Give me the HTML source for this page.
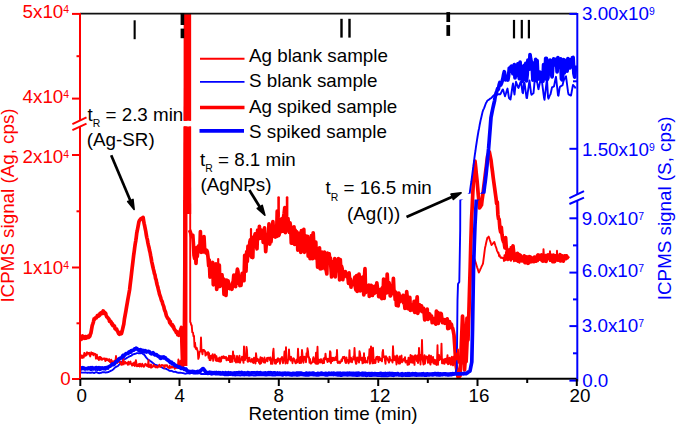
<!DOCTYPE html>
<html><head><meta charset="utf-8">
<style>
html,body{margin:0;padding:0;background:#fff;}
body{width:677px;height:426px;overflow:hidden;}
svg{display:block;}
text{font-family:"Liberation Sans",sans-serif;}
</style></head>
<body>
<svg width="677" height="426" viewBox="0 0 677 426">
<defs>
<clipPath id="plot"><rect x="80" y="14" width="497" height="365"/></clipPath>
<clipPath id="cred"><rect x="80" y="14" width="497" height="106.8"/><rect x="80" y="126.5" width="497" height="252.5"/></clipPath>
<clipPath id="cblue"><rect x="80" y="14" width="497" height="179.8"/><rect x="80" y="199.4" width="497" height="179.6"/></clipPath>
</defs>
<rect width="677" height="426" fill="#fff"/>
<g clip-path="url(#cred)"><polyline points="80.0,340.9 80.5,338.4 81.1,339.3 81.6,337.5 82.1,338.8 82.7,336.0 83.2,337.4 83.7,337.1 84.3,337.7 84.8,338.2 85.4,336.6 85.9,337.0 86.5,338.0 87.0,337.2 87.5,336.7 88.1,336.2 88.7,337.3 89.2,336.9 89.8,336.3 90.3,334.5 90.9,333.1 91.6,329.2 92.2,325.6 92.8,323.9 93.5,321.7 94.1,318.9 94.6,319.2 95.2,318.1 95.8,317.9 96.3,318.0 96.9,316.7 97.4,315.6 97.9,316.2 98.5,316.2 99.0,314.8 99.5,315.4 100.1,313.3 100.6,313.2 101.1,312.7 101.6,313.7 102.2,312.7 102.7,312.3 103.2,310.9 103.7,311.9 104.2,313.4 104.7,312.4 105.2,313.1 105.7,313.6 106.2,315.3 106.8,316.9 107.3,317.2 107.9,317.8 108.5,318.8 109.0,319.1 109.5,321.3 110.1,320.9 110.6,321.4 111.2,322.2 111.7,324.0 112.3,323.7 112.8,325.6 113.4,325.2 113.9,326.2 114.5,326.2 115.0,328.6 115.6,329.1 116.1,329.2 116.7,329.2 117.2,330.8 117.7,331.3 118.3,332.9 118.8,333.8 119.3,334.3 119.8,333.3 120.3,332.6 120.9,333.8 121.4,333.6 121.9,332.1 122.5,329.6 123.2,326.5 123.8,324.1 124.4,319.1 125.1,315.4 125.7,312.2 126.2,309.1 126.7,306.1 127.2,303.4 127.7,300.4 128.3,297.0 129.0,293.2 129.6,289.7 130.1,285.3 130.6,281.3 131.1,277.2 131.6,272.7 132.1,268.4 132.6,264.3 133.1,260.1 133.6,255.8 134.2,251.4 134.7,247.6 135.2,244.0 135.8,240.6 136.3,237.0 136.8,232.8 137.3,230.5 137.9,227.4 138.4,224.6 138.9,221.9 139.4,220.6 140.0,219.8 140.5,219.4 141.0,218.6 141.5,218.7 142.1,218.2 142.6,217.7 143.1,217.4 143.6,220.5 144.1,223.4 144.7,226.0 145.2,228.6 145.8,231.5 146.3,234.9 146.8,237.6 147.4,239.9 147.9,242.9 148.4,245.2 149.0,247.4 149.5,250.3 150.1,252.5 150.6,255.4 151.2,258.4 151.7,261.6 152.3,264.2 152.8,266.5 153.4,269.2 153.9,270.9 154.4,273.6 155.0,275.0 155.5,278.2 156.1,279.7 156.6,282.5 157.2,285.0 157.8,287.0 158.3,289.2 158.9,291.4 159.4,293.9 160.0,295.6 160.5,297.0 161.1,299.1 161.6,300.7 162.2,301.6 162.7,303.9 163.3,305.4 163.8,306.6 164.3,309.1 164.9,310.8 165.4,311.7 166.0,314.2 166.5,316.1 167.1,317.1 167.6,318.2 168.1,318.7 168.7,319.2 169.2,320.3 169.7,322.7 170.2,321.4 170.8,324.2 171.3,324.5 171.8,325.5 172.4,324.7 172.9,326.8 173.5,326.5 174.0,328.5 174.6,329.6 175.1,330.2 175.6,330.6 176.2,332.3 176.7,331.5 177.2,332.2 177.7,334.7 178.3,333.6 178.8,335.3 179.3,333.7 179.8,333.1 180.4,330.4 180.9,329.2 181.4,327.5 182.0,345.7 182.6,364.0 183.1,363.2 183.6,362.4 184.2,361.6 184.7,360.8 185.2,360.0 185.5,0.0" fill="none" stroke="#ff0000" stroke-width="3.7" stroke-linejoin="round" stroke-linecap="butt" /><polyline points="189.5,230.0 190.2,231.7 191.0,234.0 191.6,236.7 192.2,237.1 192.8,235.2 193.4,243.7 194.0,255.4 194.7,258.6 195.3,250.6 196.0,263.5 196.7,247.5 197.3,256.3 198.0,247.0 198.6,245.9 199.2,245.9 199.8,250.5 200.4,231.5 201.0,252.3 201.6,245.7 202.2,237.8 202.8,245.7 203.4,252.0 204.0,236.6 204.7,249.8 205.3,251.4 206.0,252.9 206.7,250.3 207.3,251.7 208.0,256.9 208.7,265.9 209.3,260.1 210.0,277.1 210.7,272.3 211.3,264.5 212.0,263.5 212.7,262.5 213.3,284.8 214.0,280.4 214.7,283.2 215.3,281.2 216.0,263.8 216.7,289.4 217.3,271.9 218.0,270.0 218.7,286.7 219.3,265.1 220.0,286.4 220.7,283.1 221.3,276.9 222.0,274.8 222.7,283.0 223.3,278.9 224.0,294.3 224.7,279.8 225.3,290.6 226.0,295.5 226.7,280.1 227.3,284.5 228.0,280.7 228.7,284.4 229.3,288.4 230.0,288.7 230.7,285.6 231.3,288.0 232.0,289.2 232.6,282.7 233.2,281.9 233.8,275.1 234.4,280.1 235.0,275.5 235.6,286.7 236.2,274.7 236.8,274.2 237.4,269.2 238.0,271.7 238.6,283.5 239.2,278.1 239.8,285.6 240.4,279.4 241.0,285.3 241.6,276.9 242.2,273.3 242.8,274.1 243.4,276.5 244.0,280.6 244.7,255.3 245.3,271.3 246.0,271.2 246.7,251.7 247.3,261.3 248.0,246.1 248.6,248.0 249.2,252.3 249.8,242.3 250.4,239.8 251.0,255.7 251.6,257.1 252.2,255.6 252.8,257.5 253.4,237.2 254.0,238.0 254.6,236.1 255.2,233.8 255.8,241.7 256.4,245.8 257.0,248.8 257.6,230.2 258.2,237.5 258.8,238.6 259.4,226.3 260.0,236.9 260.6,238.1 261.3,230.2 261.9,230.9 262.5,231.6 263.2,242.5 263.8,237.2 264.5,227.8 265.1,240.0 265.7,251.7 266.4,242.5 267.0,234.4 267.7,236.1 268.3,239.2 269.0,223.9 269.7,244.2 270.3,226.3 271.0,241.9 271.6,235.2 272.2,236.8 272.9,221.7 273.5,231.2 274.1,228.4 274.8,236.0 275.4,237.0 276.0,233.2 276.6,236.4 277.2,211.2 277.9,213.1 278.5,235.6 279.1,234.7 279.8,230.4 280.4,231.8 281.0,231.7 281.6,218.8 282.2,221.9 282.9,231.1 283.5,217.3 284.1,213.5 284.8,207.5 285.4,232.7 286.0,216.8 286.7,218.5 287.3,221.6 288.0,218.6 288.7,228.6 289.3,232.3 290.0,222.8 290.7,227.6 291.3,243.2 292.0,235.3 292.7,243.1 293.3,236.0 294.0,226.9 294.6,244.4 295.2,230.1 295.9,242.6 296.5,231.5 297.1,232.3 297.8,250.1 298.4,235.5 299.0,239.2 299.6,234.6 300.2,233.2 300.8,252.5 301.4,230.7 302.0,235.9 302.6,244.6 303.2,235.0 303.8,229.4 304.4,252.3 305.0,235.3 305.6,241.9 306.3,236.9 306.9,247.7 307.5,236.3 308.2,256.2 308.8,240.1 309.5,241.8 310.1,258.6 310.7,244.1 311.4,235.5 312.0,241.3 312.6,258.7 313.2,232.8 313.9,245.6 314.5,253.0 315.1,257.8 315.8,242.0 316.4,258.4 317.0,253.3 317.6,267.1 318.2,265.5 318.9,266.3 319.5,247.8 320.1,268.8 320.8,264.3 321.4,268.6 322.0,252.0 322.6,265.9 323.2,261.5 323.8,259.4 324.4,252.2 325.0,269.0 325.6,259.5 326.2,270.1 326.8,273.9 327.4,253.2 328.0,254.3 328.6,256.4 329.2,253.9 329.8,260.7 330.4,258.1 331.0,268.9 331.6,277.0 332.2,267.3 332.8,261.8 333.5,263.0 334.1,264.9 334.7,258.6 335.3,277.0 335.9,265.8 336.5,270.8 337.2,268.7 337.8,270.1 338.4,258.6 339.0,262.0 339.6,280.0 340.3,259.6 340.9,271.3 341.5,266.1 342.2,268.8 342.8,279.7 343.5,275.2 344.1,272.5 344.7,273.2 345.4,271.7 346.0,275.1 346.6,276.6 347.2,274.0 347.9,277.4 348.5,283.4 349.1,272.9 349.8,281.7 350.4,279.1 351.0,287.2 351.6,282.3 352.2,284.9 352.9,282.3 353.5,284.1 354.1,281.4 354.8,277.2 355.4,287.5 356.0,290.0 356.6,275.6 357.2,291.4 357.8,285.7 358.4,282.1 359.0,274.0 359.6,280.3 360.2,290.8 360.8,284.7 361.4,281.2 362.0,281.8 362.6,277.2 363.2,285.3 363.8,295.0 364.4,277.7 365.0,268.7 365.6,292.6 366.2,290.1 366.8,289.0 367.5,290.3 368.1,285.9 368.7,285.2 369.3,296.5 369.9,285.3 370.5,289.1 371.2,285.4 371.8,287.2 372.4,295.5 373.0,287.9 373.6,286.6 374.3,293.3 374.9,286.9 375.5,285.9 376.2,292.1 376.8,282.8 377.5,288.2 378.1,289.2 378.7,296.7 379.4,294.9 380.0,296.8 380.6,295.8 381.2,289.2 381.8,298.6 382.4,287.6 383.0,297.2 383.6,279.1 384.2,298.5 384.8,285.9 385.4,284.5 386.0,285.2 386.6,293.0 387.2,274.0 387.8,285.3 388.4,289.3 389.0,282.7 389.6,285.5 390.2,296.0 390.9,295.2 391.5,285.8 392.1,293.2 392.8,290.7 393.4,278.4 394.0,292.0 394.6,291.0 395.2,299.5 395.8,292.3 396.4,305.5 397.0,300.3 397.6,294.2 398.2,305.8 398.8,293.2 399.4,295.9 400.0,301.7 400.6,300.2 401.2,299.9 401.8,299.3 402.4,298.0 403.1,295.3 403.7,303.1 404.3,300.6 404.9,308.4 405.5,301.7 406.1,301.5 406.7,291.7 407.3,298.1 407.9,308.6 408.6,299.1 409.2,309.2 409.8,297.3 410.4,310.3 411.0,306.2 411.6,304.9 412.2,306.0 412.8,309.9 413.5,309.2 414.1,301.4 414.7,312.5 415.3,303.8 415.9,301.1 416.5,303.8 417.2,296.8 417.8,313.4 418.4,310.7 419.0,307.5 419.6,304.9 420.3,309.3 420.9,310.7 421.5,305.8 422.2,311.6 422.8,310.4 423.5,308.2 424.1,312.5 424.7,319.8 425.4,317.7 426.0,311.8 426.6,315.9 427.2,309.2 427.8,319.4 428.5,314.8 429.1,316.8 429.7,314.0 430.3,318.4 430.9,318.2 431.5,316.0 432.2,322.7 432.8,319.7 433.4,322.3 434.0,318.6 434.6,321.4 435.2,323.0 435.8,324.1 436.4,311.2 437.0,320.0 437.6,312.3 438.2,323.5 438.8,315.1 439.4,313.4 440.0,320.5 440.6,313.3 441.2,313.7 441.8,318.2 442.4,322.6 443.0,319.3 443.6,319.6 444.2,319.8 444.8,323.3 445.4,320.2 446.0,322.9 446.6,322.2 447.2,318.8 447.8,328.6 448.4,326.0 449.0,328.3 449.6,321.6 450.2,326.9 450.8,324.6 451.4,324.4 452.0,327.7 452.7,328.4 453.3,331.2 454.0,335.0 454.7,345.0 455.3,355.0 456.0,365.0 456.7,369.0 457.3,373.0 458.0,377.0 458.7,376.7 459.3,376.3 460.0,376.0 460.8,358.0 461.5,340.0 462.5,316.0 463.5,330.0 464.5,370.0 465.2,360.0 466.0,350.0 467.0,318.0 468.0,340.0 468.8,315.0 469.5,290.0 470.2,266.7 470.8,243.3 471.5,220.0 472.2,206.7 472.8,193.3 473.5,180.0 474.2,170.5 475.0,161.0 475.7,167.3 476.3,173.7 477.0,180.0 477.6,187.0 478.2,194.0 478.9,201.0 479.5,208.0 480.2,207.0 480.8,206.0 481.5,205.0 482.1,200.0 482.8,195.0 483.4,190.0 484.0,185.0 484.6,180.2 485.2,175.3 485.8,170.5 486.4,165.7 487.0,160.8 487.6,156.0 488.5,154.0 489.4,152.0 490.2,156.0 491.0,160.0 491.7,165.9 492.5,171.7 493.2,177.6 493.9,182.7 494.6,187.8 495.3,192.9 496.0,198.0 496.6,203.5 497.3,202.0 497.9,214.7 498.6,219.2 499.2,219.3 499.9,228.2 500.6,231.8 501.3,227.3 502.0,234.6 502.7,239.3 503.5,241.7 504.2,242.9 504.9,247.8 505.6,237.7 506.3,247.8 507.0,249.5 507.7,250.9 508.4,255.0 509.1,255.4 509.8,249.9 510.4,257.4 511.1,251.1 511.7,252.2 512.4,247.4 513.0,246.0 513.7,252.4 514.3,256.0 515.0,257.6 515.6,256.0 516.2,260.2 516.8,257.3 517.4,253.4 518.0,261.2 518.6,258.7 519.2,254.5 519.8,258.0 520.4,255.3 521.0,257.0 521.6,259.2 522.3,260.5 523.0,259.2 523.6,260.1 524.2,255.9 524.9,262.6 525.5,257.9 526.2,262.6 526.8,256.8 527.5,260.6 528.1,263.3 528.8,262.8 529.4,256.7 530.0,256.8 530.7,260.4 531.3,261.7 531.9,258.6 532.5,259.7 533.1,261.3 533.8,261.6 534.4,257.2 535.0,258.3 535.6,257.7 536.2,261.1 536.8,259.0 537.5,255.7 538.1,254.9 538.7,257.0 539.3,259.0 539.9,255.3 540.5,256.5 541.2,255.7 541.8,254.9 542.4,260.9 543.0,260.5 543.6,257.8 544.2,257.3 544.9,260.9 545.5,255.7 546.1,261.3 546.7,256.5 547.3,255.3 547.9,255.0 548.6,258.1 549.2,256.6 549.8,258.8 550.4,260.2 551.0,257.8 551.6,255.4 552.2,258.5 552.8,261.7 553.4,255.1 554.0,261.7 554.6,261.5 555.2,255.9 555.8,257.4 556.4,256.0 557.0,258.7 557.6,260.1 558.2,259.9 558.8,257.2 559.4,256.0 560.0,254.7 560.7,261.0 561.4,256.1 562.0,255.9 562.7,259.9 563.4,261.1 564.0,256.2 564.7,258.2 565.4,256.0 566.0,258.7 566.6,255.9 567.3,257.7 567.9,256.8 568.5,256.0" fill="none" stroke="#ff0000" stroke-width="3.7" stroke-linejoin="round" stroke-linecap="butt" /><polygon points="184.3,13 190.4,13 191.2,214 183.6,214" fill="#ff0000"/><rect x="183.4" y="200" width="4" height="166" fill="#ff0000"/><line x1="278.6" y1="216" x2="278.6" y2="197.5" stroke="#ff0000" stroke-width="2.6" stroke-linecap="round"/><line x1="287.1" y1="216" x2="287.1" y2="197.5" stroke="#ff0000" stroke-width="2.6" stroke-linecap="round"/><line x1="251" y1="246" x2="251" y2="229" stroke="#ff0000" stroke-width="2.2" stroke-linecap="round"/><line x1="218.2" y1="272" x2="218.2" y2="259" stroke="#ff0000" stroke-width="2.2" stroke-linecap="round"/></g>
<g clip-path="url(#cblue)"><polyline points="80.0,372.5 80.5,372.5 81.0,372.5 81.5,372.5 82.0,372.6 82.5,372.6 83.0,372.6 83.5,372.6 84.0,372.6 84.5,372.6 85.0,372.5 85.5,372.5 86.0,372.6 86.5,372.6 87.0,372.7 87.5,372.7 88.0,372.7 88.5,372.6 89.0,372.6 89.5,372.7 90.0,372.8 90.5,372.8 91.0,372.9 91.5,372.7 92.0,372.5 92.5,372.4 93.0,372.7 93.5,372.9 94.0,373.0 94.5,372.8 95.0,372.6 95.5,372.4 96.0,372.2 96.5,372.2 97.0,372.4 97.5,372.6 98.0,372.8 98.5,373.0 99.0,373.2 99.5,373.1 100.0,373.0 100.5,372.9 101.0,372.9 101.5,372.6 102.0,372.4 102.5,372.3 103.0,372.3 103.5,372.3 104.0,372.3 104.5,372.3 105.0,372.4 105.5,372.5 106.0,372.5 106.5,372.4 107.0,372.3 107.6,372.2 108.1,372.1 108.6,372.0 109.2,371.7 109.7,371.4 110.2,371.2 110.7,370.9 111.2,370.6 111.8,370.4 112.3,370.2 112.8,369.7 113.4,369.3 113.9,368.7 114.4,368.2 115.0,367.6 115.5,367.2 116.0,366.9 116.6,366.6 117.1,366.3 117.6,366.1 118.2,365.7 118.7,365.2 119.2,364.7 119.7,364.2 120.2,363.7 120.7,363.2 121.2,362.6 121.7,362.0 122.2,361.4 122.7,360.9 123.2,360.4 123.7,359.9 124.2,359.5 124.7,359.2 125.2,358.8 125.7,358.6 126.3,358.3 126.8,357.9 127.3,357.6 127.9,357.3 128.4,357.0 128.9,356.7 129.5,356.5 130.0,356.2 130.5,356.0 131.1,355.8 131.6,355.5 132.1,355.0 132.6,354.5 133.2,354.4 133.7,354.2 134.2,354.1 134.7,353.9 135.2,353.8 135.8,353.6 136.3,353.3 136.8,353.1 137.3,353.1 137.8,353.1 138.4,353.2 138.9,353.3 139.4,353.3 139.9,353.2 140.5,353.2 141.0,353.1 141.5,353.0 142.0,353.3 142.6,353.7 143.1,354.0 143.6,354.4 144.2,354.8 144.7,355.2 145.2,356.1 145.8,356.9 146.3,357.7 146.8,358.2 147.4,358.7 147.9,359.4 148.4,359.7 148.9,360.0 149.4,360.3 149.9,360.7 150.4,361.0 150.9,361.4 151.4,361.8 151.9,362.1 152.4,362.6 152.9,363.0 153.4,363.4 153.9,363.8 154.4,364.3 154.9,364.6 155.5,364.9 156.0,365.0 156.5,365.2 157.1,365.4 157.6,365.5 158.1,365.7 158.7,365.9 159.2,366.0 159.7,366.2 160.3,366.4 160.8,366.7 161.3,367.0 161.8,367.3 162.3,367.6 162.8,367.9 163.3,368.1 163.8,368.4 164.3,368.6 164.8,368.6 165.3,368.6 165.8,368.7 166.3,368.9 166.8,369.2 167.3,369.5 167.8,369.7 168.4,370.0 168.9,370.4 169.4,370.7 170.0,371.0 170.5,370.9 171.0,370.8 171.6,370.9 172.1,371.1 172.6,371.4 173.2,371.6 173.7,371.8 174.2,371.9 174.7,371.9 175.2,371.8 175.7,371.8 176.2,372.1 176.7,372.4 177.2,372.5 177.7,372.6 178.2,372.7 178.7,372.7 179.2,372.7 179.7,372.7 180.2,372.8 180.7,372.8 181.3,372.9 181.8,372.9 182.3,373.0 182.9,373.1 183.4,373.1 183.9,373.3 184.5,373.5 185.0,373.6 185.5,373.7 186.1,373.5 186.6,373.3 187.1,373.1 187.7,373.2 188.2,373.3 188.7,373.4 189.3,373.5 189.8,373.6 190.3,373.3 190.9,373.0 191.4,372.8 191.9,373.0 192.5,373.1 193.0,373.3 193.5,373.5 194.0,373.5 194.5,373.6 195.0,373.6 195.5,373.6 196.0,373.6 196.5,373.6 197.0,373.5 197.5,373.5 198.0,373.5 198.5,373.4 199.0,373.3 199.5,373.1 200.0,373.1 200.5,373.6 201.0,374.0 201.5,374.1 202.0,374.0 202.5,374.0 203.0,373.9 203.5,374.0 204.0,374.1 204.5,374.1 205.0,374.1 205.5,374.0 206.0,373.9 206.5,373.8 207.0,374.0 207.5,374.2 208.0,374.3 208.5,374.1 209.0,374.0 209.5,374.0 210.0,374.2 210.5,374.4 211.0,374.5 211.5,374.7 212.0,374.6 212.5,374.5 213.0,374.4 213.5,374.3 214.0,374.4 214.5,374.4 215.0,374.4 215.5,374.4 216.0,374.5 216.5,374.5 217.0,374.6 217.5,374.6 218.0,374.6 218.5,374.6 219.0,374.6 219.5,374.6 220.0,374.7 220.5,374.8 221.0,374.9 221.5,374.9 222.0,374.8 222.5,374.8 223.0,374.7 223.5,374.9 224.0,375.1 224.5,375.3 225.0,375.3 225.5,375.3 226.0,375.3 226.5,375.2 227.0,375.2 227.5,375.2 228.0,375.2 228.5,375.2 229.0,375.1 229.5,375.1 230.0,375.1 230.5,375.0 231.0,374.8 231.5,374.7 232.0,375.0 232.5,375.4 233.0,375.4 233.5,375.4 234.0,375.4 234.5,375.4 235.0,375.5 235.5,375.5 236.0,375.3 236.5,375.2 237.0,375.2 237.5,375.2 238.0,375.3 238.5,375.3 239.0,375.3 239.5,375.4 240.0,375.5 240.5,375.5 241.0,375.4 241.5,375.2 242.0,375.2 242.5,375.2 243.0,375.3 243.5,375.4 244.0,375.5 244.5,375.5 245.0,375.4 245.5,375.4 246.0,375.4 246.5,375.3 247.0,375.3 247.5,375.4 248.0,375.4 248.5,375.5 249.0,375.5 249.5,375.5 250.0,375.5 250.5,375.4 251.0,375.3 251.5,375.3 252.0,375.4 252.5,375.4 253.0,375.4 253.5,375.5 254.0,375.5 254.5,375.5 255.0,375.5 255.5,375.5 256.0,375.5 256.5,375.4 257.0,375.4 257.5,375.4 258.0,375.3 258.5,375.3 259.0,375.3 259.5,375.2 260.0,375.2 260.5,375.2 261.0,375.2 261.5,375.3 262.0,375.3 262.5,375.4 263.0,375.4 263.5,375.4 264.0,375.4 264.5,375.4 265.0,375.5 265.5,375.5 266.0,375.6 266.5,375.6 267.0,375.5 267.5,375.4 268.0,375.3 268.5,375.2 269.0,375.2 269.5,375.3 270.0,375.3 270.5,375.3 271.0,375.4 271.5,375.4 272.0,375.5 272.5,375.5 273.0,375.6 273.5,375.6 274.0,375.6 274.5,375.5 275.0,375.5 275.5,375.5 276.0,375.4 276.5,375.4 277.0,375.4 277.5,375.3 278.0,375.2 278.5,375.1 279.0,375.2 279.5,375.3 280.0,375.3 280.5,375.4 281.0,375.4 281.5,375.5 282.0,375.6 282.5,375.7 283.0,375.7 283.5,375.5 284.0,375.2 284.5,375.0 285.0,375.2 285.5,375.4 286.0,375.6 286.5,375.4 287.0,375.2 287.5,375.2 288.0,375.2 288.5,375.3 289.0,375.4 289.5,375.5 290.0,375.6 290.5,375.6 291.0,375.7 291.5,375.7 292.0,375.8 292.5,375.7 293.0,375.6 293.5,375.6 294.0,375.5 294.5,375.5 295.0,375.4 295.5,375.5 296.0,375.6 296.5,375.7 297.0,375.8 297.5,375.8 298.0,375.7 298.5,375.6 299.0,375.6 299.5,375.5 300.0,375.4 300.5,375.4 301.0,375.4 301.5,375.4 302.0,375.4 302.5,375.4 303.0,375.5 303.5,375.5 304.0,375.6 304.5,375.6 305.0,375.7 305.5,375.8 306.0,375.8 306.5,375.8 307.0,375.9 307.5,375.9 308.0,375.9 308.5,375.9 309.0,375.7 309.5,375.5 310.0,375.3 310.5,375.3 311.0,375.3 311.5,375.4 312.0,375.4 312.5,375.4 313.0,375.5 313.5,375.5 314.0,375.5 314.5,375.5 315.0,375.6 315.5,375.6 316.0,375.7 316.5,375.8 317.0,375.9 317.5,375.8 318.0,375.7 318.5,375.7 319.0,375.6 319.5,375.6 320.0,375.4 320.5,375.3 321.0,375.2 321.5,375.2 322.0,375.2 322.5,375.2 323.0,375.2 323.5,375.3 324.0,375.4 324.5,375.5 325.0,375.6 325.5,375.7 326.0,375.7 326.5,375.7 327.0,375.8 327.5,375.9 328.0,375.6 328.5,375.4 329.0,375.4 329.5,375.3 330.0,375.3 330.5,375.3 331.0,375.3 331.5,375.3 332.0,375.4 332.5,375.4 333.0,375.4 333.5,375.5 334.0,375.4 334.5,375.3 335.0,375.3 335.5,375.4 336.0,375.5 336.5,375.6 337.0,375.6 337.5,375.7 338.0,375.7 338.5,375.8 339.0,375.8 339.5,375.9 340.0,375.9 340.5,376.0 341.0,376.0 341.5,376.1 342.0,375.9 342.5,375.8 343.0,375.6 343.5,375.5 344.0,375.5 344.5,375.5 345.0,375.5 345.5,375.5 346.0,375.5 346.5,375.6 347.0,375.7 347.5,375.7 348.0,375.7 348.5,375.6 349.0,375.6 349.5,375.5 350.0,375.5 350.5,375.5 351.0,375.6 351.5,375.6 352.0,375.7 352.5,375.7 353.0,375.7 353.5,375.8 354.0,375.8 354.5,375.8 355.0,375.9 355.5,375.9 356.0,376.0 356.5,376.0 357.0,376.0 357.5,376.0 358.0,376.0 358.5,375.9 359.0,375.8 359.5,375.7 360.0,375.6 360.5,375.5 361.0,375.6 361.5,375.7 362.0,375.8 362.5,375.9 363.0,376.0 363.5,375.9 364.0,375.8 364.5,375.8 365.0,375.9 365.5,376.0 366.0,376.1 366.5,376.2 367.0,376.1 367.5,376.0 368.0,375.9 368.5,375.9 369.0,375.9 369.5,376.0 370.0,376.0 370.5,376.1 371.0,376.1 371.5,376.0 372.0,376.0 372.5,375.9 373.0,375.9 373.5,375.8 374.0,375.8 374.5,375.7 375.0,375.7 375.5,375.6 376.0,375.8 376.5,375.9 377.0,376.0 377.5,376.1 378.0,376.1 378.5,376.1 379.0,376.1 379.5,376.1 380.0,376.1 380.5,376.1 381.0,376.2 381.5,376.2 382.0,376.2 382.5,376.3 383.0,376.3 383.5,376.3 384.0,376.3 384.5,376.3 385.0,376.2 385.5,376.2 386.0,376.2 386.5,376.2 387.0,376.2 387.5,376.3 388.0,376.2 388.5,376.1 389.0,376.0 389.5,375.9 390.0,375.8 390.5,375.9 391.0,375.9 391.5,375.9 392.0,376.0 392.5,376.1 393.0,376.1 393.5,376.2 394.0,376.0 394.5,375.8 395.0,375.7 395.5,375.6 396.0,375.6 396.5,375.6 397.0,375.6 397.5,375.6 398.0,375.6 398.5,375.7 399.0,375.7 399.5,375.7 400.0,375.7 400.5,375.7 401.0,375.9 401.5,376.1 402.0,376.2 402.5,376.2 403.0,376.0 403.5,375.8 404.0,375.7 404.5,375.8 405.0,375.9 405.5,376.1 406.0,376.1 406.5,376.1 407.0,376.1 407.5,376.1 408.0,376.1 408.5,376.1 409.0,376.0 409.5,376.0 410.0,376.0 410.5,375.9 411.0,375.9 411.5,375.8 412.0,375.8 412.5,375.7 413.0,375.6 413.5,375.6 414.0,375.7 414.5,375.8 415.0,375.9 415.5,375.9 416.0,376.0 416.5,376.0 417.0,376.0 417.5,375.9 418.0,375.9 418.5,375.8 419.0,375.8 419.5,375.8 420.0,375.8 420.5,375.8 421.0,375.8 421.5,375.8 422.0,375.7 422.5,375.7 423.0,375.8 423.5,375.9 424.0,375.9 424.5,376.0 425.0,376.0 425.5,376.0 426.0,376.0 426.5,376.0 427.0,375.9 427.5,375.9 428.0,375.8 428.5,375.8 429.0,375.7 429.5,375.7 430.0,375.6 430.5,375.5 431.0,375.5 431.5,375.6 432.0,375.6 432.5,375.7 433.0,375.7 433.5,375.6 434.0,375.5 434.5,375.4 435.0,375.3 435.5,375.4 436.0,375.5 436.5,375.5 437.0,375.6 437.5,375.6 438.0,375.7 438.5,375.8 439.0,375.8 439.5,375.8 440.0,375.8 440.5,375.7 441.0,375.6 441.5,375.6 442.0,375.5 442.5,375.5 443.0,375.4 443.5,375.3 444.0,375.3 444.5,375.4 445.0,375.4 445.5,375.5 446.0,375.5 446.5,375.6 447.0,375.6 447.5,375.7 448.0,375.7 448.5,375.8 449.0,375.7 449.5,375.6 450.0,375.5 450.5,375.5 451.0,375.5 451.5,375.5 452.0,375.5 452.5,375.2 453.0,374.9 453.5,374.5 454.0,374.2 454.5,373.8 455.0,373.4 455.5,373.0 456.1,370.5 456.8,368.0 457.5,300.0 458.0,284.0 458.6,283.0 459.3,282.0 460.2,230.0 460.3,200.0 460.8,199.6 461.3,199.3 461.9,198.9 462.4,198.6 462.9,198.2 463.4,197.8 464.0,197.5 464.5,197.1 465.0,196.8 465.5,196.4 466.0,196.0 466.6,195.7 467.1,195.3 467.6,194.9 468.1,194.6 468.7,194.2 469.2,193.9 469.7,193.5 470.2,189.6 470.7,185.8 471.3,182.0 471.8,178.2 472.3,174.4 472.8,170.4 473.4,166.4 473.9,162.3 474.4,158.2 474.9,154.3 475.5,150.5 476.0,146.7 476.5,143.5 477.0,140.2 477.5,137.0 478.0,134.0 478.5,131.0 479.1,128.2 479.6,125.3 480.2,122.3 480.8,119.4 481.4,117.0 481.9,114.8 482.4,112.6 483.0,110.4 483.5,109.3 484.0,108.3 484.5,107.2 485.0,105.7 485.5,104.3 486.0,103.0 486.5,102.2 487.0,101.3 487.5,100.5 488.0,100.2 488.5,99.9 489.0,99.6 489.5,99.3 490.0,98.7 490.5,98.4 491.1,98.1 491.6,97.8 492.1,97.1 492.6,96.5 493.2,95.8 493.7,95.3 494.3,95.8 494.8,96.5 495.4,96.5 495.9,95.9 496.5,95.3 497.0,94.7 497.6,94.2 498.1,94.2 498.7,94.3 499.2,94.3 499.7,94.4 500.2,94.3 500.8,93.4 501.3,92.3 501.8,91.2 502.4,90.0 502.9,89.4 503.4,90.9 503.9,92.6 504.5,94.4 505.0,96.3 505.5,94.8 506.0,93.3 506.5,91.6 507.0,89.9 507.5,88.6 508.0,91.7 508.5,95.0 509.0,98.1 509.5,98.6 510.0,99.2 510.5,99.5 511.0,96.3 511.5,93.0 512.0,89.5 512.5,86.0 513.0,83.5 513.5,87.5 514.0,91.6 514.5,94.6 515.0,90.0 515.5,85.4 516.0,81.8 516.5,83.1 517.0,84.5 517.5,85.9 518.0,87.3 518.5,88.0 519.0,86.6 519.5,85.1 520.0,83.6 520.5,82.1 521.0,81.5 521.5,85.1 522.0,88.8 522.5,92.5 523.0,93.2 523.5,88.1 524.0,82.9 524.5,82.5 525.0,86.3 525.5,90.1 526.0,94.0 526.5,97.9 527.0,98.1 527.5,94.5 528.0,90.9 528.5,87.3 529.0,83.7 529.5,80.4 530.0,84.5 530.5,88.6 531.0,92.7 531.5,94.8 532.0,94.4 532.5,93.9 533.0,93.5 533.5,93.2 534.0,87.8 534.5,82.3 535.0,79.1 535.5,78.8 536.0,78.4 536.5,78.3 537.0,81.3 537.5,84.2 538.0,87.2 538.5,89.2 539.0,86.9 539.5,84.5 540.0,82.2 540.5,80.6 541.0,81.1 541.5,81.6 542.0,81.8 542.5,85.8 543.0,89.8 543.5,93.8 544.0,97.7 544.5,99.8 545.0,95.5 545.5,91.1 546.0,86.8 546.5,82.5 547.0,79.1 547.5,88.1 548.0,97.1 548.5,98.7 549.0,97.4 549.5,96.1 550.0,94.8 550.5,94.3 551.0,92.0 551.5,89.7 552.0,87.4 552.5,87.1 553.0,86.9 553.5,86.6 554.0,86.4 554.5,83.9 555.0,81.3 555.5,78.8 556.0,76.8 556.5,81.4 557.0,86.0 557.5,90.7 558.0,95.3 558.5,95.7 559.0,92.2 559.5,88.6 560.0,86.7 560.5,86.4 561.0,86.1 561.5,85.8 562.0,85.5 562.5,85.4 563.0,83.3 563.5,81.1 564.0,79.8 564.5,78.8 565.0,77.9 565.5,76.9 566.0,76.3 566.5,80.1 567.0,84.0 567.5,87.8 568.0,91.7 568.5,94.3 569.0,94.6 569.5,94.9 570.0,95.2 570.5,95.5 571.0,95.5 571.5,92.8 572.0,90.1 572.5,87.3 573.0,84.9 573.5,85.5 574.0,86.1 574.5,86.7 575.0,87.1 575.5,88.5" fill="none" stroke="#0000ff" stroke-width="1.9" stroke-linejoin="round" stroke-linecap="butt" /></g>
<g clip-path="url(#cred)"><polyline points="80.0,356.0 80.5,357.8 81.0,355.6 81.6,355.4 82.1,358.1 82.6,357.2 83.2,355.4 83.7,357.6 84.3,352.9 84.8,353.1 85.4,355.8 85.9,355.4 86.5,355.4 87.0,352.1 87.6,353.4 88.1,353.8 88.6,353.0 89.2,352.8 89.7,355.4 90.2,356.4 90.8,354.3 91.3,352.3 91.8,354.0 92.4,352.9 92.9,353.3 93.4,355.3 93.9,353.3 94.4,354.1 94.9,354.2 95.4,353.9 95.9,358.6 96.4,357.7 96.9,354.6 97.4,358.7 97.9,358.2 98.4,357.4 98.9,360.0 99.4,356.9 99.9,358.0 100.5,357.0 101.0,359.6 101.5,357.8 102.1,359.9 102.6,359.0 103.1,359.1 103.7,358.5 104.2,358.4 104.7,358.4 105.3,361.1 105.8,358.7 106.3,360.3 106.8,358.7 107.3,359.4 107.8,360.2 108.3,359.4 108.8,360.9 109.3,359.2 109.8,361.8 110.3,362.0 110.8,362.8 111.3,359.8 111.8,364.3 112.3,361.1 112.8,364.1 113.4,362.8 113.9,361.2 114.4,361.1 115.0,360.4 115.5,360.7 116.0,356.0 116.6,361.4 117.1,363.0 117.6,361.9 118.2,361.4 118.7,361.3 119.2,361.8 119.7,362.5 120.2,361.4 120.7,362.7 121.2,364.9 121.7,363.0 122.2,364.1 122.7,364.5 123.2,356.4 123.7,364.4 124.2,362.8 124.7,362.3 125.2,361.8 125.7,363.6 126.3,363.1 126.8,362.8 127.3,363.6 127.9,364.7 128.4,361.7 128.9,364.5 129.5,362.5 130.0,362.5 130.5,361.6 131.1,364.4 131.6,364.4 132.1,365.6 132.7,363.4 133.2,365.2 133.7,363.1 134.3,362.5 134.8,366.1 135.3,363.3 135.9,360.1 136.4,363.5 136.9,366.3 137.5,366.1 138.0,364.5 138.5,365.9 139.0,364.0 139.6,366.6 140.1,363.8 140.6,365.0 141.1,365.5 141.6,366.5 142.2,363.7 142.7,364.6 143.2,365.4 143.7,366.8 144.3,366.5 144.8,365.3 145.3,363.8 145.8,364.3 146.3,364.4 146.9,365.9 147.4,365.0 147.9,366.4 148.4,360.3 148.9,367.0 149.4,364.9 150.0,366.8 150.5,367.6 151.0,364.5 151.5,367.6 152.0,367.2 152.5,366.8 153.1,366.3 153.6,364.7 154.1,366.3 154.6,366.5 155.1,366.0 155.6,367.3 156.2,367.1 156.7,366.2 157.2,367.4 157.7,367.5 158.2,366.6 158.7,366.6 159.3,364.7 159.8,365.7 160.3,366.9 160.8,365.8 161.3,366.2 161.8,364.9 162.3,365.1 162.9,365.6 163.4,365.4 163.9,365.7 164.4,367.8 164.9,365.3 165.4,365.2 166.0,365.7 166.5,365.2 167.0,365.3 167.5,366.9 168.0,367.3 168.5,367.4 169.1,368.0 169.6,365.6 170.1,367.1 170.6,367.9 171.1,367.7 171.6,366.9 172.2,366.6 172.7,367.4 173.2,366.7 173.7,366.2 174.2,366.4 174.7,368.7 175.3,368.3 175.8,366.9 176.3,367.2 176.8,367.9 177.4,367.2 177.9,366.8 178.4,359.5 178.9,366.5 179.5,368.0 180.0,367.3 180.5,360.6 181.1,366.9 181.6,362.3 182.2,367.4 182.7,366.9 183.3,367.0 183.9,275.2 184.4,183.5 184.9,91.8 185.5,0.0" fill="none" stroke="#ff0000" stroke-width="1.9" stroke-linejoin="round" stroke-linecap="butt" /></g>
<g clip-path="url(#cred)"><polyline points="190.2,0.0 190.2,322.0 190.7,322.8 191.2,325.1 191.7,325.1 192.3,332.4 193.0,332.6 193.5,336.3 194.0,335.8 194.5,346.7 195.0,342.6 195.6,348.1 196.1,349.1 196.7,347.8 197.2,349.6 197.8,351.4 198.3,358.9 198.9,357.1 199.4,352.7 200.0,351.3 200.5,351.1 201.0,337.5 201.5,351.6 202.0,351.7 202.5,354.4 203.0,349.9 203.5,350.1 204.0,350.0 204.5,351.0 205.0,351.2 205.5,355.6 206.1,354.4 206.6,354.6 207.1,352.5 207.6,353.8 208.1,352.2 208.6,357.8 209.1,353.3 209.6,360.1 210.1,356.0 210.6,360.2 211.2,355.8 211.7,358.2 212.2,355.7 212.7,354.2 213.2,360.9 213.8,356.1 214.3,356.7 214.8,354.5 215.3,355.7 215.8,360.5 216.4,356.2 216.9,361.0 217.4,360.0 217.9,358.6 218.4,361.4 219.0,358.4 219.5,357.5 220.0,361.7 220.5,360.4 221.0,361.5 221.5,356.8 222.0,358.4 222.5,357.0 223.0,356.6 223.5,356.2 224.0,358.3 224.5,357.9 225.0,357.0 225.5,358.3 226.0,356.9 226.5,360.4 227.0,360.0 227.5,359.9 228.0,357.9 228.5,360.0 229.0,355.8 229.5,357.3 230.0,362.0 230.5,356.0 231.0,362.1 231.5,356.3 232.0,358.6 232.5,361.7 233.0,351.4 233.5,357.8 234.0,358.4 234.5,355.8 235.0,361.2 235.5,359.5 236.0,362.6 236.5,360.6 237.0,355.9 237.5,357.5 238.0,362.4 238.5,361.9 239.0,359.1 239.5,355.7 240.0,362.7 240.5,361.0 241.0,359.7 241.5,359.2 242.0,356.6 242.5,360.2 243.0,359.1 243.5,362.9 244.0,346.4 244.5,359.6 245.0,359.9 245.5,357.8 246.0,358.1 246.5,346.9 247.0,350.2 247.5,361.2 248.0,361.8 248.5,358.0 249.0,360.8 249.5,357.8 250.0,361.3 250.5,360.7 251.0,361.8 251.5,360.1 252.0,358.8 252.5,361.1 253.0,362.6 253.5,363.0 254.0,357.8 254.5,361.5 255.0,361.2 255.5,363.5 256.0,353.3 256.5,357.3 257.0,361.0 257.5,359.0 258.0,360.2 258.5,359.4 259.0,362.9 259.5,359.4 260.0,364.0 260.5,357.1 261.0,363.3 261.5,358.4 262.0,357.8 262.5,358.6 263.0,361.2 263.5,362.4 264.0,362.4 264.5,357.5 265.0,362.7 265.5,361.1 266.0,360.8 266.5,359.6 267.0,357.9 267.5,361.4 268.0,357.6 268.5,357.6 269.0,358.6 269.5,357.7 270.0,360.3 270.5,357.5 271.0,363.8 271.5,363.3 272.0,358.9 272.5,363.8 273.0,352.7 273.5,348.8 274.0,358.7 274.5,360.6 275.0,363.5 275.5,360.0 276.0,363.7 276.5,359.4 277.0,360.9 277.5,361.9 278.0,358.1 278.5,360.8 279.0,359.1 279.5,359.1 280.0,363.7 280.5,358.7 281.0,358.4 281.5,358.7 282.0,357.0 282.5,361.6 283.0,363.2 283.5,358.5 284.0,358.5 284.5,351.5 285.0,359.8 285.5,363.5 286.0,347.2 286.5,360.0 287.0,361.3 287.5,363.4 288.0,360.3 288.5,358.9 289.0,349.4 289.5,359.0 290.0,358.8 290.5,360.5 291.0,356.8 291.5,358.4 292.0,359.8 292.5,363.2 293.0,359.4 293.5,358.3 294.0,358.7 294.5,360.6 295.0,361.8 295.5,363.3 296.0,363.2 296.5,359.8 297.0,362.6 297.5,361.8 298.0,348.7 298.5,358.6 299.0,361.6 299.5,363.1 300.0,358.1 300.5,356.9 301.0,363.0 301.5,360.7 302.0,350.0 302.5,355.1 303.0,360.1 303.5,362.7 304.0,357.2 304.5,356.7 305.0,359.5 305.5,359.0 306.0,362.3 306.5,353.2 307.0,356.8 307.5,348.3 308.0,351.2 308.5,357.4 309.0,357.0 309.5,362.6 310.0,359.0 310.5,363.5 311.0,363.6 311.5,362.9 312.0,362.3 312.5,362.3 313.0,358.7 313.5,357.1 314.0,359.2 314.5,362.4 315.0,359.1 315.5,363.5 316.0,352.6 316.5,363.8 317.0,357.8 317.5,346.8 318.0,363.9 318.5,361.2 319.0,359.6 319.5,359.8 320.0,362.7 320.5,359.6 321.0,359.1 321.5,362.0 322.0,361.1 322.5,363.3 323.0,360.8 323.5,358.6 324.0,363.1 324.5,357.7 325.0,359.5 325.5,353.7 326.0,358.4 326.5,358.4 327.0,360.2 327.5,362.1 328.0,358.8 328.5,360.6 329.0,360.7 329.5,361.6 330.0,351.3 330.5,352.2 331.0,363.2 331.5,358.9 332.0,357.8 332.5,361.0 333.0,357.8 333.5,360.1 334.0,358.1 334.5,360.4 335.0,359.5 335.5,357.3 336.0,360.0 336.5,359.5 337.0,350.0 337.5,362.2 338.0,363.1 338.5,362.1 339.0,361.5 339.5,361.7 340.0,363.2 340.5,362.1 341.0,361.6 341.5,359.4 342.0,361.2 342.5,358.5 343.0,356.9 343.5,357.5 344.0,358.1 344.5,356.8 345.0,360.7 345.5,362.6 346.0,363.1 346.5,357.5 347.0,361.6 347.5,361.5 348.0,360.0 348.5,363.4 349.0,361.6 349.5,350.2 350.0,361.9 350.5,360.1 351.0,357.7 351.5,360.2 352.0,362.3 352.5,358.9 353.0,359.3 353.5,356.5 354.0,359.6 354.5,348.0 355.0,357.0 355.5,361.6 356.0,363.9 356.5,363.5 357.0,357.5 357.5,360.7 358.0,357.8 358.5,359.0 359.0,362.6 359.5,351.1 360.0,353.2 360.5,357.4 361.0,360.2 361.5,358.0 362.0,357.7 362.5,363.4 363.0,357.5 363.5,362.9 364.0,353.2 364.5,362.1 365.0,357.6 365.5,362.5 366.0,362.0 366.5,361.1 367.0,361.0 367.5,362.6 368.0,357.3 368.5,357.8 369.0,357.2 369.5,349.1 370.0,363.7 370.5,360.7 371.0,346.4 371.5,358.3 372.0,357.9 372.5,363.3 373.0,347.7 373.5,357.4 374.0,363.2 374.5,359.9 375.0,360.0 375.5,363.0 376.0,358.3 376.5,356.9 377.0,359.0 377.5,356.7 378.0,359.4 378.5,362.0 379.0,356.9 379.5,357.2 380.0,360.1 380.5,358.7 381.0,359.7 381.5,360.9 382.0,361.4 382.5,352.5 383.0,350.0 383.5,357.1 384.0,356.3 384.5,356.4 385.0,360.7 385.5,363.9 386.0,356.1 386.5,357.3 387.0,357.8 387.5,359.5 388.0,360.3 388.5,361.2 389.0,362.6 389.5,356.6 390.0,358.5 390.5,360.6 391.0,360.2 391.5,360.1 392.0,360.7 392.5,362.6 393.0,346.2 393.5,356.0 394.0,360.2 394.5,359.0 395.0,356.3 395.5,360.3 396.0,360.0 396.5,364.5 397.0,355.4 397.5,358.3 398.0,358.7 398.5,362.9 399.0,363.6 399.5,356.5 400.0,363.6 400.5,357.9 401.0,356.3 401.5,355.6 402.0,362.2 402.5,361.8 403.0,359.6 403.5,359.8 404.0,358.7 404.5,360.7 405.0,357.1 405.5,362.5 406.0,362.2 406.5,362.2 407.0,360.7 407.5,364.8 408.0,364.9 408.5,357.8 409.0,364.4 409.5,362.5 410.0,362.4 410.5,355.0 411.0,356.7 411.5,362.5 412.0,355.8 412.5,356.8 413.0,362.9 413.5,358.4 414.0,356.1 414.5,364.9 415.0,355.5 415.5,355.3 416.0,358.5 416.5,359.2 417.0,361.3 417.5,355.4 418.0,363.0 418.5,360.2 419.0,347.9 419.5,358.8 420.0,356.3 420.5,364.5 421.0,354.8 421.5,357.7 422.0,339.9 422.5,359.1 423.0,361.5 423.5,364.6 424.0,359.8 424.5,355.1 425.0,363.7 425.5,359.5 426.0,356.5 426.5,356.4 427.0,358.4 427.5,357.0 428.0,362.8 428.5,356.8 429.0,355.2 429.5,360.8 430.0,363.3 430.5,364.6 431.0,355.7 431.5,362.3 432.0,358.9 432.5,359.1 433.0,356.9 433.5,363.5 434.0,359.7 434.5,359.6 435.0,364.0 435.5,360.2 436.0,363.4 436.5,364.9 437.0,362.1 437.5,345.3 438.0,364.7 438.5,357.7 439.0,354.9 439.5,360.1 440.0,357.2 440.5,357.9 441.0,359.1 441.5,343.6 442.0,363.3 442.5,359.1 443.0,363.3 443.5,360.5 444.0,359.4 444.5,363.9 445.0,358.9 445.5,362.1 446.0,358.7 446.5,362.7 447.0,360.0 447.5,355.1 448.0,364.3 448.5,362.6 449.0,363.9 449.5,357.8 450.0,358.4 450.5,359.8 451.0,364.9 451.5,357.3 452.0,356.7 452.5,358.4 453.0,365.4 453.5,363.9 454.0,356.4 454.5,359.1 455.0,361.1 455.5,360.7 456.0,353.4 456.5,358.1 457.0,359.1 457.5,356.4 458.0,349.5 458.5,362.1 459.0,362.9 459.5,358.0 460.0,363.3 460.5,360.8 461.0,363.4 461.5,358.6 462.0,363.5 462.5,363.5 463.0,359.3 463.5,361.1 464.0,363.9 464.5,359.9 465.0,363.9 465.5,362.9 466.0,362.7 466.5,362.1 467.0,362.0 467.5,351.5 468.0,341.0 468.5,330.5 469.0,320.0 469.5,307.5 470.0,295.0 470.5,282.5 471.0,270.0 471.5,265.3 472.0,260.7 472.5,256.0 473.0,256.8 473.6,257.6 474.1,258.4 474.6,259.2 475.1,260.9 475.7,262.6 476.2,264.2 476.7,265.9 477.2,267.6 477.8,269.2 478.3,270.9 478.8,272.6 479.3,271.5 479.9,270.3 480.4,269.2 480.9,268.1 481.4,266.9 481.9,265.8 482.5,264.6 483.0,263.5 483.5,259.6 484.0,255.8 484.5,251.9 485.0,248.0 485.6,245.5 486.1,243.0 486.7,240.5 487.3,238.0 488.0,237.3 488.7,236.6 489.3,238.3 489.8,240.0 490.4,241.6 490.9,243.3 491.5,245.0 492.1,244.4 492.6,243.8 493.2,243.2 493.7,242.6 494.3,242.0 494.8,243.6 495.4,245.6 495.9,247.0 496.5,248.6 497.0,250.8 497.5,251.3 498.0,252.9 498.5,252.7 499.1,256.2 499.6,255.2 500.1,256.5 500.6,257.7 501.2,257.7 501.8,257.4 502.3,258.1 502.9,258.1 503.5,258.4 504.0,261.0 504.5,255.2 505.0,260.3 505.5,259.9 506.0,252.0 506.5,259.7 507.0,257.2 507.5,253.4 508.0,260.4 508.5,258.3 509.0,257.4 509.5,259.8 510.0,259.1 510.5,247.0 511.0,260.9 511.5,256.8 512.0,259.6 512.5,257.3 513.0,248.7 513.5,247.8 514.0,261.4 514.5,259.1 515.0,258.6 515.5,258.2 516.0,259.4 516.5,257.9 517.0,259.5 517.5,258.2 518.0,261.7 518.5,257.5 519.0,254.0 519.5,262.9 520.0,260.1 520.5,261.5 521.0,257.4 521.5,257.6 522.0,261.7 522.5,260.4 523.0,259.1 523.5,258.8 524.0,256.9 524.5,261.7 525.0,260.7 525.5,257.7 526.0,257.3 526.5,257.6 527.0,256.8 527.5,258.1 528.0,259.3 528.5,261.3 529.0,259.3 529.5,261.1 530.0,259.1 530.5,259.1 531.0,261.3 531.5,256.6 532.0,257.1 532.5,258.6 533.0,259.0 533.5,260.4 534.0,257.5 534.5,261.4 535.0,259.0 535.5,258.7 536.0,257.3 536.5,256.6 537.0,256.2 537.5,258.7 538.0,261.3 538.5,257.6 539.0,257.7 539.5,256.6 540.0,259.8 540.5,258.2 541.0,260.1 541.5,261.1 542.0,260.8 542.5,257.9 543.0,261.9 543.5,249.1 544.0,256.5 544.5,257.1 545.0,256.7 545.5,257.1 546.0,258.1 546.5,256.4 547.0,258.5 547.5,257.0 548.0,256.2 548.5,258.6 549.0,258.1 549.5,256.3 550.0,251.2 550.5,257.6 551.0,257.4 551.5,256.8 552.0,261.4 552.5,260.6 553.0,261.1 553.5,259.5 554.0,258.4 554.5,256.4 555.0,256.6 555.5,257.4 556.0,257.7 556.5,260.2 557.0,250.7 557.5,259.8 558.0,259.8 558.5,260.9 559.0,259.0 559.5,257.0 560.0,261.4 560.5,258.2 561.0,259.2 561.5,256.6 562.0,256.5 562.5,257.3 563.0,258.9 563.5,258.1 564.0,258.5 564.5,258.6 565.0,258.6 565.5,257.6 566.0,257.9 566.5,257.8 567.0,256.3 567.5,256.8 568.0,257.0" fill="none" stroke="#ff0000" stroke-width="1.9" stroke-linejoin="round" stroke-linecap="butt" /></g>
<g clip-path="url(#cblue)"><polyline points="80.0,368.5 80.7,368.8 81.4,368.8 82.1,367.9 82.8,367.7 83.5,368.3 84.2,368.1 84.9,369.0 85.6,368.8 86.3,368.7 87.0,368.6 87.7,368.8 88.4,367.9 89.1,368.4 89.8,368.0 90.5,369.1 91.2,367.8 91.9,369.0 92.6,367.8 93.4,368.8 94.1,368.2 94.8,368.3 95.5,369.0 96.2,367.7 96.9,367.8 97.6,369.2 98.3,368.5 99.0,367.8 99.7,369.3 100.4,369.2 101.1,367.9 101.8,368.4 102.5,367.9 103.2,368.2 103.9,368.7 104.6,368.0 105.3,368.8 106.0,367.8 106.8,367.5 107.6,368.1 108.4,367.0 109.2,366.5 109.9,366.3 110.7,365.7 111.5,365.1 112.3,364.0 113.0,364.6 113.7,364.4 114.4,363.9 115.1,362.8 115.9,361.7 116.6,361.2 117.3,361.1 118.0,360.5 118.7,359.1 119.4,358.7 120.1,358.3 120.9,358.0 121.6,357.9 122.3,356.8 123.0,355.5 123.8,356.2 124.5,355.0 125.2,354.5 125.9,353.7 126.6,353.7 127.3,353.3 128.0,353.5 128.8,352.1 129.5,352.4 130.2,351.5 130.9,352.0 131.6,350.6 132.3,350.5 133.1,350.2 133.8,350.2 134.6,348.8 135.3,349.1 136.1,348.2 136.9,348.6 137.6,349.2 138.4,350.2 139.2,349.8 140.0,350.8 140.7,349.8 141.5,351.3 142.2,350.5 142.9,350.4 143.6,351.5 144.3,351.9 145.1,350.6 145.8,351.2 146.5,352.1 147.2,351.6 147.9,351.6 148.6,351.4 149.3,351.7 150.1,352.8 150.8,353.6 151.5,353.9 152.2,353.3 153.0,352.7 153.7,353.4 154.4,354.4 155.1,354.9 155.8,355.0 156.5,354.7 157.2,355.6 158.0,356.0 158.7,356.6 159.4,356.5 160.1,358.0 160.8,358.3 161.6,357.0 162.4,357.1 163.1,357.9 163.9,356.9 164.7,357.8 165.5,357.9 166.2,359.0 167.0,359.8 167.7,359.8 168.5,360.7 169.2,361.1 170.0,362.2 170.7,362.7 171.5,362.2 172.2,363.9 173.0,363.6 173.7,363.8 174.4,364.5 175.1,365.7 175.9,365.4 176.6,365.8 177.3,366.6 178.0,367.1 178.8,367.1 179.5,366.9 180.2,367.5 180.9,368.3 181.6,368.4 182.3,368.4 183.0,368.3 183.8,368.6 184.5,369.5 185.2,369.5 185.9,368.9 186.6,370.3 187.4,370.9 188.2,371.0 188.9,371.4 189.7,371.7 190.5,371.5 191.2,371.9 192.0,371.5 192.8,371.3 193.5,371.7 194.2,371.7 195.0,372.4 195.7,372.1 196.4,371.9 197.1,371.9 197.9,371.3 198.6,371.7 199.3,371.8 200.0,371.4 200.8,370.5 201.5,369.9 202.2,369.1 203.0,368.6 203.8,369.2 204.5,370.2 205.2,371.3 206.0,372.7 206.8,372.8 207.5,372.7 208.2,373.1 209.0,372.5 209.8,372.2 210.5,372.7 211.2,372.7 212.0,372.5 212.8,373.0 213.5,372.8 214.2,372.7 215.0,372.8 215.7,373.4 216.4,372.5 217.1,372.9 217.8,372.8 218.5,372.7 219.2,372.9 219.9,372.7 220.6,373.4 221.3,373.0 222.0,373.2 222.7,372.7 223.4,373.0 224.1,373.1 224.8,373.3 225.5,372.7 226.2,373.0 226.9,373.4 227.6,373.3 228.3,372.7 229.0,373.0 229.7,373.3 230.4,372.9 231.1,373.2 231.8,373.2 232.5,373.5 233.2,373.1 233.9,373.2 234.6,372.9 235.3,373.2 236.0,372.8 236.7,373.0 237.4,372.9 238.1,372.8 238.8,372.6 239.5,372.7 240.2,373.0 240.9,372.8 241.6,372.5 242.3,373.3 243.0,372.8 243.7,373.4 244.4,373.1 245.1,372.9 245.8,373.4 246.5,373.4 247.2,372.8 247.9,372.6 248.6,373.1 249.3,373.3 250.0,373.1 250.7,373.3 251.4,372.9 252.1,373.1 252.8,372.8 253.5,372.9 254.2,372.9 254.9,372.9 255.6,373.0 256.3,373.4 257.0,372.7 257.7,372.8 258.5,372.8 259.2,373.6 259.9,373.1 260.6,372.7 261.3,373.4 262.0,373.5 262.7,373.4 263.4,373.0 264.1,373.4 264.8,373.0 265.5,372.8 266.2,373.5 266.9,373.5 267.6,372.9 268.3,373.6 269.0,372.7 269.7,373.0 270.4,372.7 271.1,372.9 271.8,372.9 272.5,373.4 273.2,373.0 273.9,372.9 274.6,372.9 275.4,373.1 276.1,373.6 276.8,373.4 277.5,372.9 278.2,373.5 278.9,373.3 279.6,373.2 280.3,373.3 281.0,373.5 281.7,373.6 282.4,373.3 283.1,373.5 283.8,373.3 284.5,373.5 285.2,373.2 285.9,373.3 286.6,373.4 287.3,373.6 288.0,373.2 288.7,373.8 289.4,373.4 290.1,373.8 290.8,373.6 291.5,373.9 292.3,373.6 293.0,373.4 293.7,373.3 294.4,373.6 295.1,373.7 295.8,373.8 296.5,373.1 297.2,373.0 297.9,373.1 298.6,373.1 299.3,373.0 300.0,373.0 300.7,373.2 301.4,373.1 302.1,373.7 302.8,373.6 303.5,374.0 304.2,374.0 304.9,373.7 305.6,373.9 306.3,373.0 307.0,373.2 307.7,373.9 308.5,373.5 309.2,373.2 309.9,373.8 310.6,373.4 311.3,373.5 312.0,373.3 312.7,373.2 313.4,373.1 314.1,373.6 314.8,374.0 315.5,374.0 316.2,373.8 316.9,373.9 317.6,373.4 318.3,373.3 319.0,373.9 319.7,373.6 320.4,373.7 321.1,373.0 321.8,373.2 322.5,373.5 323.2,373.7 323.9,373.8 324.6,373.8 325.4,373.3 326.1,373.4 326.8,373.9 327.5,374.0 328.2,373.5 328.9,373.2 329.6,373.6 330.3,373.5 331.0,373.4 331.7,373.2 332.4,373.4 333.1,373.6 333.8,373.1 334.5,373.5 335.2,374.0 335.9,373.7 336.6,373.3 337.3,373.4 338.0,373.1 338.7,373.7 339.4,373.6 340.1,373.2 340.8,373.5 341.5,373.6 342.3,373.6 343.0,373.4 343.7,373.3 344.4,373.4 345.1,374.0 345.8,373.3 346.5,373.5 347.2,373.5 347.9,373.2 348.6,373.4 349.3,373.2 350.0,373.3 350.7,373.4 351.4,373.4 352.1,374.0 352.8,373.3 353.5,373.4 354.2,373.7 354.9,373.4 355.6,373.6 356.3,373.7 357.0,373.1 357.7,373.7 358.5,373.2 359.2,373.3 359.9,373.9 360.6,374.1 361.3,373.8 362.0,373.3 362.7,373.6 363.4,373.4 364.1,374.0 364.8,373.4 365.5,373.4 366.2,373.8 366.9,373.8 367.6,373.8 368.3,373.7 369.0,374.1 369.7,373.7 370.4,374.1 371.1,373.6 371.8,373.7 372.5,373.6 373.2,373.9 373.9,374.0 374.6,373.5 375.4,373.8 376.1,374.0 376.8,373.8 377.5,373.9 378.2,373.9 378.9,374.0 379.6,373.7 380.3,373.6 381.0,373.3 381.7,374.2 382.4,374.1 383.1,373.7 383.8,374.3 384.5,374.2 385.2,373.5 385.9,374.2 386.6,373.8 387.3,373.7 388.0,373.6 388.7,373.8 389.4,373.4 390.1,373.5 390.8,373.5 391.5,373.7 392.3,373.6 393.0,373.6 393.7,374.3 394.4,373.8 395.1,373.9 395.8,374.1 396.5,374.4 397.2,373.6 397.9,373.7 398.6,374.3 399.3,374.4 400.0,374.4 400.7,374.0 401.4,373.9 402.1,373.7 402.8,374.4 403.5,374.3 404.2,374.1 404.9,374.3 405.6,373.8 406.3,374.0 407.1,374.4 407.8,373.6 408.5,374.1 409.2,373.7 409.9,374.3 410.6,374.3 411.3,374.1 412.0,373.9 412.7,373.6 413.4,374.0 414.1,373.9 414.8,373.9 415.5,373.6 416.2,374.4 416.9,374.0 417.6,374.1 418.3,374.3 419.0,374.3 419.7,374.0 420.4,374.0 421.2,374.3 421.9,373.9 422.6,374.3 423.3,373.6 424.0,374.2 424.7,374.0 425.4,374.1 426.1,374.4 426.8,373.8 427.5,373.9 428.2,374.2 428.9,374.2 429.6,374.0 430.3,374.2 431.0,374.1 431.7,374.3 432.4,374.1 433.1,373.9 433.8,373.8 434.6,373.7 435.3,373.7 436.0,373.7 436.7,374.3 437.4,373.7 438.1,374.1 438.8,373.7 439.5,374.3 440.2,374.0 440.9,373.8 441.6,374.2 442.3,374.2 443.0,374.3 443.7,373.8 444.4,373.9 445.1,374.1 445.8,373.9 446.5,374.0 447.2,374.1 447.9,374.2 448.7,374.2 449.4,374.2 450.1,373.9 450.8,374.2 451.5,374.0 452.2,373.8 452.9,373.7 453.6,374.1 454.3,373.9 455.0,373.8 455.7,374.0 456.4,373.9 457.1,373.8 457.9,373.9 458.6,373.9 459.3,373.8 460.0,374.0 460.7,374.0 461.4,373.6 462.1,373.9 462.8,373.6 463.5,373.8 464.3,373.4 465.0,373.5 465.7,373.7 466.4,373.6 467.1,373.1 467.8,372.4 468.6,371.9 469.3,371.5 470.0,371.0 470.9,366.5 471.8,362.0 472.5,330.0 473.5,270.0 474.2,247.5 475.0,225.0 476.3,200.0 477.1,199.3 477.8,198.5 478.6,197.8 479.3,197.0 480.1,196.3 480.8,195.6 481.6,194.8 482.3,194.1 483.1,193.3 483.8,192.6 484.5,186.7 485.3,180.9 486.0,175.0 486.9,166.2 487.7,157.3 488.6,148.5 489.4,138.2 490.2,127.8 491.0,117.5 491.9,112.9 492.8,108.5 493.7,104.5 494.5,101.1 495.2,96.7 496.0,93.5 496.8,91.4 497.6,88.7 498.4,89.0 499.1,85.1 499.9,82.4 500.7,85.0 501.5,83.2 502.2,81.0 502.9,78.5 503.6,74.7 504.3,71.7 505.0,75.3 505.7,79.9 506.4,76.7 507.2,77.6 507.9,80.0 508.6,75.7 509.3,68.0 510.0,71.5 510.7,67.2 511.5,66.1 512.2,68.0 512.9,73.7 513.6,68.8 514.3,64.6 515.0,77.9 515.8,73.1 516.5,71.1 517.2,67.0 517.9,63.9 518.7,75.2 519.4,78.6 520.1,62.1 520.8,73.1 521.6,72.1 522.3,81.3 523.0,80.0 523.7,66.0 524.4,65.3 525.1,65.5 525.8,63.3 526.5,80.8 527.2,74.5 527.9,60.2 528.6,62.1 529.3,69.1 530.0,54.6 530.7,59.2 531.4,62.2 532.1,63.7 532.9,80.1 533.6,71.1 534.3,62.8 535.0,77.0 535.7,59.3 536.4,80.8 537.1,60.5 537.9,79.1 538.6,75.2 539.3,73.7 540.0,72.2 540.7,78.7 541.4,81.1 542.1,80.2 542.9,81.3 543.6,64.6 544.3,78.7 545.0,75.9 545.7,58.3 546.4,58.3 547.1,79.6 547.9,78.0 548.6,67.1 549.3,73.1 550.0,60.1 550.7,61.6 551.4,73.7 552.1,76.9 552.9,64.7 553.6,58.9 554.3,65.0 555.0,64.9 555.7,61.7 556.4,59.2 557.1,72.0 557.9,57.7 558.6,65.7 559.3,65.4 560.0,67.2 560.7,58.8 561.4,78.7 562.1,79.9 562.9,74.2 563.6,59.6 564.3,72.8 565.0,60.3 565.7,69.2 566.4,61.7 567.1,71.1 567.9,58.6 568.6,64.7 569.3,59.7 570.0,67.9 570.8,60.7 571.6,66.5 572.4,57.7 573.1,57.4 573.9,73.3 574.7,77.1 575.5,65.3" fill="none" stroke="#0000ff" stroke-width="3.7" stroke-linejoin="round" stroke-linecap="butt" /></g>
<!-- frame -->
<line x1="80" y1="13.7" x2="577" y2="13.7" stroke="#111" stroke-width="1.8"/>
<line x1="79" y1="378.8" x2="578" y2="378.8" stroke="#000" stroke-width="2"/>
<!-- left axis (red) -->
<line x1="80" y1="13" x2="80" y2="121" stroke="#ff0000" stroke-width="2"/>
<line x1="80" y1="127" x2="80" y2="380" stroke="#ff0000" stroke-width="2"/>
<g stroke="#ff0000" stroke-width="2">
<line x1="72" y1="13.9" x2="80" y2="13.9"/>
<line x1="72" y1="98.6" x2="80" y2="98.6"/>
<line x1="72" y1="155" x2="80" y2="155"/>
<line x1="72" y1="267.5" x2="80" y2="267.5"/>
<line x1="72" y1="379" x2="80" y2="379"/>
<line x1="76.5" y1="56.2" x2="80" y2="56.2"/>
<line x1="76.5" y1="211.3" x2="80" y2="211.3"/>
<line x1="76.5" y1="323.3" x2="80" y2="323.3"/>
<line x1="72.4" y1="124.1" x2="86.5" y2="117.4"/>
<line x1="72.4" y1="130.1" x2="86.5" y2="123.7"/>
</g>
<!-- right axis (blue) -->
<line x1="577.3" y1="13" x2="577.3" y2="194.5" stroke="#0000ff" stroke-width="2"/>
<line x1="577.3" y1="200.5" x2="577.3" y2="381.5" stroke="#0000ff" stroke-width="2"/>
<g stroke="#0000ff" stroke-width="2">
<line x1="569.4" y1="13.9" x2="577" y2="13.9"/>
<line x1="569.4" y1="148.8" x2="577" y2="148.8"/>
<line x1="573" y1="81.3" x2="577" y2="81.3"/>
<line x1="569.4" y1="218.3" x2="577" y2="218.3"/>
<line x1="569.4" y1="272.6" x2="577" y2="272.6"/>
<line x1="569.4" y1="326.1" x2="577" y2="326.1"/>
<line x1="569.4" y1="380.6" x2="577" y2="380.6"/>
<line x1="573" y1="245.4" x2="577" y2="245.4"/>
<line x1="573" y1="299.4" x2="577" y2="299.4"/>
<line x1="573" y1="353.3" x2="577" y2="353.3"/>
<line x1="569.4" y1="198.2" x2="584" y2="191.1"/>
<line x1="569.4" y1="204" x2="584" y2="197.6"/>
</g>
<!-- x ticks -->
<g stroke="#000" stroke-width="2">
<line x1="80.3" y1="379" x2="80.3" y2="386"/>
<line x1="179.5" y1="379" x2="179.5" y2="386"/>
<line x1="278.8" y1="379" x2="278.8" y2="386"/>
<line x1="378.2" y1="379" x2="378.2" y2="386"/>
<line x1="477.5" y1="379" x2="477.5" y2="386"/>
<line x1="576.8" y1="379" x2="576.8" y2="386"/>
<line x1="129.9" y1="379" x2="129.9" y2="383"/>
<line x1="229.2" y1="379" x2="229.2" y2="383"/>
<line x1="328.5" y1="379" x2="328.5" y2="383"/>
<line x1="427.8" y1="379" x2="427.8" y2="383"/>
<line x1="527.2" y1="379" x2="527.2" y2="383"/>
</g>
<!-- region markers -->
<g fill="#000">
<rect x="133.6" y="20.3" width="2.1" height="18.9"/>
<rect x="340.3" y="18.8" width="2.4" height="18.8"/>
<rect x="348.3" y="18.8" width="2.4" height="18.8"/>
<rect x="512.9" y="19.9" width="2.2" height="18.5"/>
<rect x="520.7" y="19.9" width="2.2" height="18.5"/>
<rect x="527.8" y="19.9" width="2.2" height="18.5"/>
<rect x="180.6" y="13" width="3.6" height="12"/>
<rect x="180.6" y="28.6" width="3.6" height="9.6"/>
<rect x="446.4" y="12.1" width="3.7" height="9.9"/>
<rect x="446.4" y="25.1" width="3.7" height="10.8"/>
</g>
<!-- legend -->
<line x1="200" y1="58.8" x2="244.5" y2="58.8" stroke="#ff0000" stroke-width="1.9"/>
<line x1="200" y1="81.9" x2="244.5" y2="81.9" stroke="#0000ff" stroke-width="1.9"/>
<line x1="200" y1="107.5" x2="244.5" y2="107.5" stroke="#ff0000" stroke-width="3.7"/>
<line x1="199.5" y1="130.8" x2="244" y2="130.8" stroke="#0000ff" stroke-width="3.7"/>
<text transform="translate(249,61.5) scale(1.045,1)" font-size="18" fill="#000">Ag blank sample</text>
<text transform="translate(249,86.8) scale(1.045,1)" font-size="18" fill="#000">S blank sample</text>
<text transform="translate(249,112.6) scale(1.045,1)" font-size="18" fill="#000">Ag spiked sample</text>
<text transform="translate(249,138) scale(1.045,1)" font-size="18" fill="#000">S spiked sample</text>
<text transform="translate(87.5,121.1) scale(1.045,1)" font-size="18" fill="#000">t<tspan font-size="10" dy="6.3">R</tspan><tspan dy="-6.3"> = 2.3 min</tspan></text>
<text transform="translate(86.8,146.3) scale(1.045,1)" font-size="18" fill="#000">(Ag-SR)</text>
<text transform="translate(200,165.6) scale(1.045,1)" font-size="18" fill="#000">t<tspan font-size="10" dy="6.3">R</tspan><tspan dy="-6.3"> = 8.1 min</tspan></text>
<text transform="translate(200.5,191) scale(1.045,1)" font-size="18" fill="#000">(AgNPs)</text>
<text transform="translate(325.5,194.4) scale(1.045,1)" font-size="18" fill="#000">t<tspan font-size="10" dy="6.3">R</tspan><tspan dy="-6.3"> = 16.5 min</tspan></text>
<text transform="translate(347,219.9) scale(1.045,1)" font-size="18" fill="#000">(Ag(I))</text>
<text transform="translate(63.3,18) scale(1.045,1)" font-size="18" fill="#ff0000" text-anchor="end">5x10</text>
<text transform="translate(63.2,13.0) scale(1.045,1)" font-size="10" fill="#ff0000">4</text>
<text transform="translate(63.3,103.1) scale(1.045,1)" font-size="18" fill="#ff0000" text-anchor="end">4x10</text>
<text transform="translate(63.2,98.1) scale(1.045,1)" font-size="10" fill="#ff0000">4</text>
<text transform="translate(63.3,162.6) scale(1.045,1)" font-size="18" fill="#ff0000" text-anchor="end">2x10</text>
<text transform="translate(63.2,157.6) scale(1.045,1)" font-size="10" fill="#ff0000">4</text>
<text transform="translate(63.3,273.6) scale(1.045,1)" font-size="18" fill="#ff0000" text-anchor="end">1x10</text>
<text transform="translate(63.2,268.6) scale(1.045,1)" font-size="10" fill="#ff0000">4</text>
<text transform="translate(70.6,384.5) scale(1.045,1)" font-size="18" fill="#ff0000" text-anchor="end">0</text>
<text transform="translate(582,19.5) scale(1.045,1)" font-size="18" fill="#0000ff">3.00x10<tspan font-size="10" dy="-5.0">9</tspan></text>
<text transform="translate(582,156.3) scale(1.045,1)" font-size="18" fill="#0000ff">1.50x10<tspan font-size="10" dy="-5.0">9</tspan></text>
<text transform="translate(581.8,224.5) scale(1.045,1)" font-size="18" fill="#0000ff">9.0x10<tspan font-size="10" dy="-5.0">7</tspan></text>
<text transform="translate(581.8,277) scale(1.045,1)" font-size="18" fill="#0000ff">6.0x10<tspan font-size="10" dy="-5.0">7</tspan></text>
<text transform="translate(581.8,331.5) scale(1.045,1)" font-size="18" fill="#0000ff">3.0x10<tspan font-size="10" dy="-5.0">7</tspan></text>
<text transform="translate(582.2,386.5) scale(1.045,1)" font-size="18" fill="#0000ff">0.0</text>
<text transform="translate(81.8,401.6) scale(1.045,1)" font-size="18" fill="#000" text-anchor="middle">0</text>
<text transform="translate(179.6,401.6) scale(1.045,1)" font-size="18" fill="#000" text-anchor="middle">4</text>
<text transform="translate(278.8,401.6) scale(1.045,1)" font-size="18" fill="#000" text-anchor="middle">8</text>
<text transform="translate(379.9,401.6) scale(1.045,1)" font-size="18" fill="#000" text-anchor="middle">12</text>
<text transform="translate(479,401.6) scale(1.045,1)" font-size="18" fill="#000" text-anchor="middle">16</text>
<text transform="translate(580,401.6) scale(1.045,1)" font-size="18" fill="#000" text-anchor="middle">20</text>
<text transform="translate(333,419.5) scale(1.045,1)" font-size="18" fill="#000" text-anchor="middle">Retention time (min)</text>
<text transform="translate(14.3,205.5) rotate(-90) scale(1.045,1)" font-size="18" fill="#ff0000" text-anchor="middle">ICPMS signal (Ag, cps)</text>
<text transform="translate(670.8,208.3) rotate(-90) scale(1.045,1)" font-size="18" fill="#0000ff" text-anchor="middle">ICPMS signal (S, cps)</text>
<!-- arrows -->
<line x1="111.2" y1="155.2" x2="130.41" y2="200.67" stroke="#000" stroke-width="2.7"/><polygon points="134.13,209.49 127.65,201.60 130.41,200.67 132.99,199.34" fill="#000" stroke="#000" stroke-width="1.6" stroke-linejoin="round"/>
<line x1="249.3" y1="190.0" x2="259.83" y2="207.03" stroke="#000" stroke-width="2.7"/><polygon points="264.87,215.18 257.25,208.37 259.83,207.03 262.18,205.32" fill="#000" stroke="#000" stroke-width="1.6" stroke-linejoin="round"/>
<line x1="406.5" y1="217.0" x2="452.35" y2="196.67" stroke="#000" stroke-width="2.7"/><polygon points="461.10,192.79 453.32,199.41 452.35,196.67 450.97,194.11" fill="#000" stroke="#000" stroke-width="1.6" stroke-linejoin="round"/>
</svg>
</body></html>
